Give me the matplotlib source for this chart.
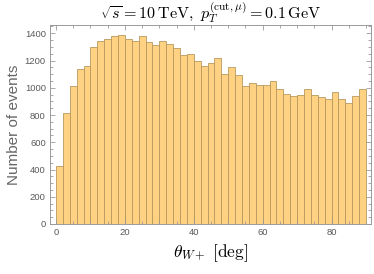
import numpy as np
import matplotlib
matplotlib.use('Agg')
import matplotlib.pyplot as plt
from matplotlib.ticker import MultipleLocator

# bin edges in degrees (2 deg bins) and event counts
edges = np.arange(0, 92, 2)
counts = [428, 813, 1013, 1136, 1158, 1297, 1341, 1356, 1378, 1385,
          1356, 1344, 1380, 1336, 1317, 1341, 1322, 1290, 1243, 1251,
          1199, 1162, 1180, 1216, 1101, 1150, 1092, 1013, 1033, 1018,
          1023, 1048, 989, 955, 940, 945, 991, 945, 930, 915,
          969, 920, 891, 942, 991]

plt.rcParams['mathtext.fontset'] = 'cm'
tick_col = '#5a5a5a'
frame_col = '#9a9a9a'

fig = plt.figure(figsize=(3.74, 2.74), dpi=100)
ax = fig.add_axes([0.1337, 0.1825, 0.8596, 0.7263])

ax.bar(edges[:-1], counts, width=2, align='edge',
       color='#FFD283', edgecolor='#B8985F', linewidth=0.6)

ax.set_xlim(-1.75, 91.6)
ax.set_ylim(0, 1461)

ax.xaxis.set_major_locator(MultipleLocator(20))
ax.xaxis.set_minor_locator(MultipleLocator(5))
ax.yaxis.set_major_locator(MultipleLocator(200))
ax.yaxis.set_minor_locator(MultipleLocator(50))
ax.tick_params(which='both', direction='in', top=True, right=True,
               color=frame_col, labelcolor=tick_col, labelsize=6.8,
               width=0.6)
ax.tick_params(which='major', length=3.5, pad=3)
ax.tick_params(which='minor', length=2)
for lab in ax.get_xticklabels() + ax.get_yticklabels():
    lab.set_family('Liberation Sans')
for sp in ax.spines.values():
    sp.set_color(frame_col)
    sp.set_linewidth(0.7)

ax.set_title(r'$\sqrt{s} = 10\,\mathrm{TeV},\ p_T^{(\mathrm{cut},\mu)} = 0.1\,\mathrm{GeV}$',
             fontsize=11.6, pad=3)
ax.set_xlabel(r'$\theta_{W+}\ [\mathrm{deg}]$', fontsize=12.5, labelpad=4)
ax.set_ylabel('Number of events', fontsize=11, color='#666666',
              family='Liberation Sans', labelpad=3)

fig.savefig('out.png', dpi=100)
